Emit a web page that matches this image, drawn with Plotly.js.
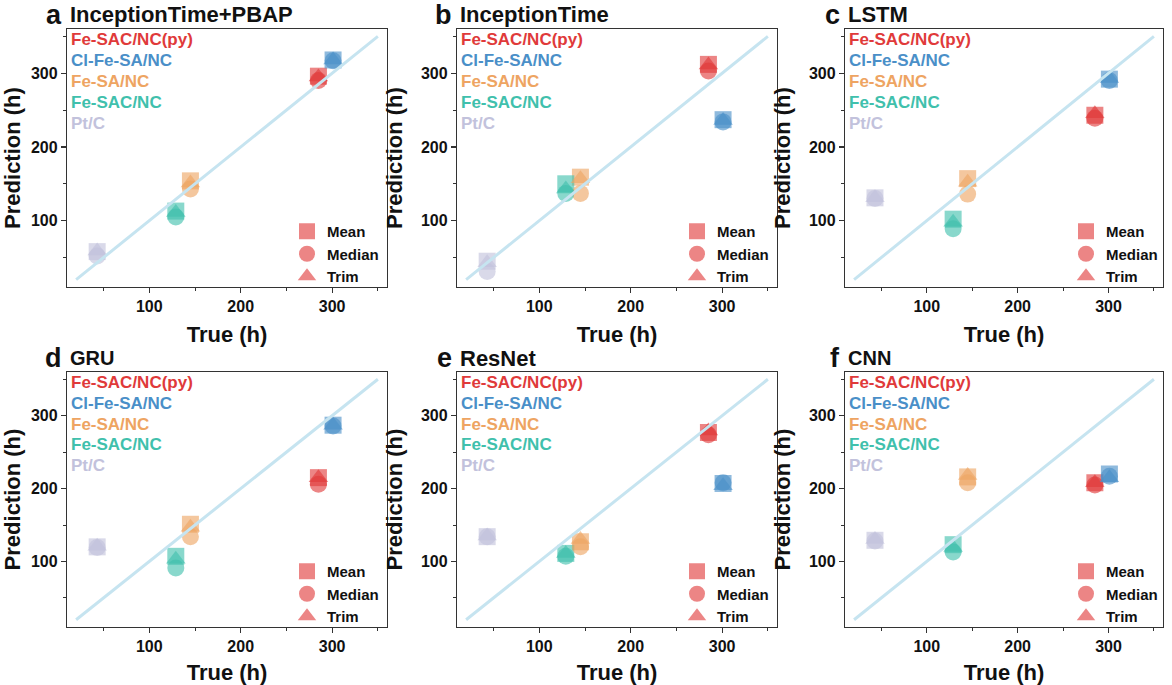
<!DOCTYPE html>
<html>
<head>
<meta charset="utf-8">
<script src="https://cdn.plot.ly/plotly-3.0.1.min.js"></script>
<style>
  html, body { margin: 0; padding: 0; background: #fff; }
  #chart { width: 1172px; height: 685px; }
</style>
</head>
<body>
<div id="chart"></div>
<script>
// catalysts, in the order used by every prediction row
const catalysts = ['Fe-SAC/NC(py)', 'Cl-Fe-SA/NC', 'Fe-SA/NC', 'Fe-SAC/NC', 'Pt/C'];
const catalystColors = ['#e03a3a', '#4a8fc8', '#eea462', '#40c0ac', '#c2c2dc'];
const trueLife = [285, 301, 145, 129, 43];

const models = ['InceptionTime+PBAP', 'InceptionTime', 'LSTM', 'GRU', 'ResNet', 'CNN'];
const panelLetters = ['a', 'b', 'c', 'd', 'e', 'f'];

const statNames = ['Mean', 'Median', 'Trim'];
const statSymbols = ['square', 'circle', 'triangle-up'];

// predicted lifetime (h), one row per model
const meanPred = [
  [296, 318, 154, 113, 58],
  [312, 237, 159, 150, 45],
  [243, 292, 157, 102, 131],
  [215, 287, 151, 107, 120],
  [277, 207, 127, 111, 134],
  [208, 220, 216, 123, 129],
];
const medianPred = [
  [290, 317, 143, 105, 52],
  [303, 234, 137, 137, 31],
  [239, 290, 136, 89, 130],
  [206, 286, 134, 91, 119],
  [274, 208, 120, 107, 134],
  [205, 217, 208, 113, 128],
];
const trimPred = [
  [295, 318, 151, 111, 59],
  [311, 236, 157, 143, 43],
  [245, 293, 152, 98, 131],
  [215, 287, 147, 103, 121],
  [279, 204, 130, 111, 135],
  [208, 215, 218, 119, 130],
];
const statPred = [meanPred, medianPred, trimPred];

// y = x reference
const diagLine = [20, 350];
const axisRange = [10, 360];
const tickVals = [100, 200, 300];

const W = 1172, H = 685;
const FONT = 'Arial, "Liberation Sans", sans-serif';
// plot boxes in px: [left, right] and [top, bottom]
const colPx = [[67, 387], [457, 777], [845, 1163]];
const rowPx = [[29, 287], [372, 627]];
const legendLeft = [287, 677, 1066];
const legendTop = [215, 555];

const traces = [];
const annotations = [];
const layout = {
  width: W,
  height: H,
  margin: { l: 0, r: 0, t: 0, b: 0 },
  paper_bgcolor: '#fff',
  plot_bgcolor: '#fff',
  font: { family: FONT, color: '#111' },
  showlegend: true,
  annotations: annotations,
};

models.forEach((model, i) => {
  const col = i % 3, row = Math.floor(i / 3);
  const n = i === 0 ? '' : String(i + 1);
  const xa = 'x' + n, ya = 'y' + n;
  const legendId = i === 0 ? 'legend' : 'legend' + (i + 1);

  statNames.forEach((stat, s) => {
    traces.push({
      type: 'scatter',
      mode: 'markers',
      name: stat,
      x: trueLife,
      y: statPred[s][i],
      xaxis: xa,
      yaxis: ya,
      legend: legendId,
      marker: {
        symbol: statSymbols[s],
        size: 17,
        color: catalystColors,
        opacity: 0.62,
        line: { width: 0 },
      },
      hoverinfo: 'x+y',
    });
  });

  traces.push({
    type: 'scatter',
    mode: 'lines',
    x: diagLine,
    y: diagLine,
    xaxis: xa,
    yaxis: ya,
    showlegend: false,
    line: { color: '#c6e4f0', width: 3 },
    hoverinfo: 'skip',
  });

  const axisCommon = {
    range: axisRange,
    tickvals: tickVals,
    ticks: 'outside',
    ticklen: 5,
    tickwidth: 1.2,
    tickcolor: '#333',
    minor: { tickvals: [50, 150, 250, 350], ticks: 'outside', ticklen: 3, tickwidth: 1, tickcolor: '#333' },
    showline: true,
    linecolor: '#333',
    linewidth: 1.2,
    mirror: true,
    showgrid: false,
    zeroline: false,
    tickfont: { family: FONT, size: 16, color: '#111', weight: 'bold' },
    fixedrange: true,
  };

  layout['xaxis' + n] = Object.assign({}, axisCommon, {
    domain: [colPx[col][0] / W, colPx[col][1] / W],
    anchor: ya,
    title: { text: 'True (h)', font: { family: FONT, size: 22, color: '#111', weight: 'bold' }, standoff: 12 },
  });
  layout['yaxis' + n] = Object.assign({}, axisCommon, {
    domain: [1 - rowPx[row][1] / H, 1 - rowPx[row][0] / H],
    anchor: xa,
    title: { text: 'Prediction (h)', font: { family: FONT, size: 22, color: '#111', weight: 'bold' }, standoff: 12 },
  });

  layout[legendId] = {
    x: legendLeft[col] / W,
    y: 1 - legendTop[row] / H,
    xanchor: 'left',
    yanchor: 'top',
    bgcolor: 'rgba(0,0,0,0)',
    borderwidth: 0,
    font: { family: FONT, size: 15, color: '#111', weight: 'bold' },
    itemsizing: 'trace',
  };

  // panel label and model name
  annotations.push({
    xref: 'paper', yref: 'paper',
    x: (colPx[col][0] - 3) / W, y: 1 - (rowPx[row][0] - 14) / H,
    xanchor: 'right', yanchor: 'middle',
    text: panelLetters[i], showarrow: false,
    font: { family: FONT, size: 27, color: '#111', weight: 'bold' },
  });
  annotations.push({
    xref: 'paper', yref: 'paper',
    x: (colPx[col][0] + 1) / W, y: 1 - (rowPx[row][0] - 14) / H,
    xanchor: 'left', yanchor: 'middle',
    text: model, showarrow: false,
    font: { family: FONT, size: (model === 'GRU' || model === 'CNN') ? 20 : 22, color: '#111', weight: 'bold' },
  });

  // coloured catalyst names
  catalysts.forEach((cat, k) => {
    annotations.push({
      xref: xa + ' domain', yref: ya + ' domain',
      x: 0.005, y: 0.96 - k * 0.082,
      xanchor: 'left', yanchor: 'middle',
      text: cat, showarrow: false,
      font: { family: FONT, size: 17, color: catalystColors[k], weight: 'bold' },
    });
  });
});

Plotly.newPlot('chart', traces, layout, { displayModeBar: false, staticPlot: true });
</script>
</body>
</html>
